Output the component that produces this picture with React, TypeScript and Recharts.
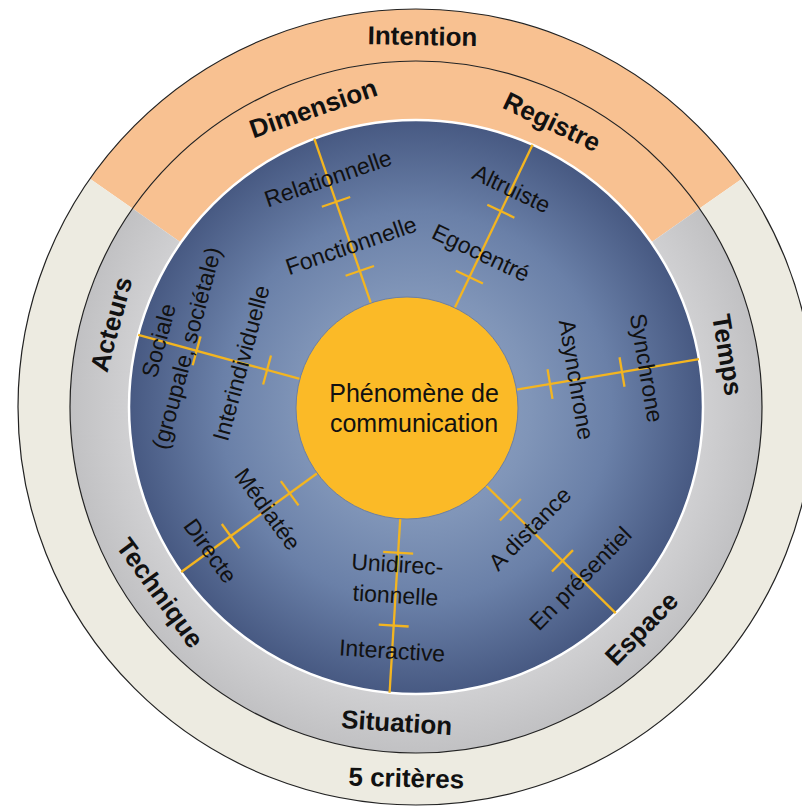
import React from 'react';
import { PieChart, Pie, Cell } from 'recharts';

// ring segments (degrees of arc)
const OUTER_RING = [
  { name: 'Intention', value: 110 },
  { name: '5 critères', value: 250 },
];
const INNER_RING = [
  { name: 'Intention', value: 110 },
  { name: 'Situation', value: 250 },
];
const OUTER_LABELS = ['Intention', '5 critères'];
const OUTER_LABEL_ANGLES = [89, 268.5];

// the seven criteria, their direction and their two options
const CRITERIA = ['Dimension', 'Registre', 'Temps', 'Espace', 'Situation', 'Technique', 'Acteurs'];
const CRITERIA_ANGLES = [109, 64.5, 9.5, 315.5, 266.5, 216, 164.8];
const NEAR_OPTIONS = ['Fonctionnelle', 'Egocentré', 'Asynchrone', 'A distance', 'Unidirec-|tionnelle', 'Médiatée', 'Interindividuelle'];
const FAR_OPTIONS = ['Relationnelle', 'Altruiste', 'Synchrone', 'En présentiel', 'Interactive', 'Directe', 'Sociale|(groupale, sociétale)'];
const CENTER_TEXT = ['Phénomène de', 'communication'];

const W = 802;
const H = 807;
const CX = 416;
const CY = 407;
const R_OUT = 398;
const R_MID = 346;
const R_DISK = 287;
const HX = 407;
const HY = 408;
const R_HUB = 111;
const TICK_R = [145, 218];
const OPTION_R = [172, 243];
const RING_LABEL_R = 316;
const OUTER_LABEL_R = 371;
const FONT = '"Liberation Sans", Arial, sans-serif';
const GOLD = '#f3b520';

const rad = (d: number) => (d * Math.PI) / 180;
const polar = (cx: number, cy: number, r: number, deg: number) => [cx + r * Math.cos(rad(deg)), cy - r * Math.sin(rad(deg))];
const tangent = (deg: number) => {
  const a = ((deg % 360) + 360) % 360;
  return a <= 180 ? 90 - a : 270 - a;
};

// distance from the hub centre to the disk edge along a direction
const rayToDisk = (deg: number) => {
  const ux = Math.cos(rad(deg));
  const uy = -Math.sin(rad(deg));
  const dx = HX - CX;
  const dy = HY - CY;
  const b = ux * dx + uy * dy;
  return -b + Math.sqrt(b * b - (dx * dx + dy * dy) + R_DISK * R_DISK);
};

const Label = ({ x, y, rot, text, size, bold, lineH }: any) => {
  const lines = text.split('|');
  return (
    <text
      transform={`translate(${x},${y}) rotate(${rot})`}
      textAnchor="middle"
      fontSize={size}
      fontWeight={bold ? 'bold' : 'normal'}
      fontFamily={FONT}
      fill="#111"
    >
      {lines.map((l: string, i: number) => (
        <tspan key={i} x={0} y={(i - (lines.length - 1) / 2) * lineH} dy="0.35em">
          {l}
        </tspan>
      ))}
    </text>
  );
};

const Overlay = () => (
  <svg width={W} height={H} style={{ position: 'absolute', left: 0, top: 0, pointerEvents: 'none' }}>
    <circle cx={CX} cy={CY} r={R_OUT} fill="none" stroke="#222" strokeWidth={1.2} />
    <circle cx={CX} cy={CY} r={R_MID} fill="none" stroke="#222" strokeWidth={1.2} />
    <circle cx={CX} cy={CY} r={R_DISK} fill="none" stroke="#fff" strokeWidth={2.5} />

    {CRITERIA.map((c, i) => {
      const a = CRITERIA_ANGLES[i];
      const [x1, y1] = polar(HX, HY, R_HUB, a);
      const [x2, y2] = polar(HX, HY, rayToDisk(a), a);
      const px = Math.sin(rad(a)) * 15;
      const py = Math.cos(rad(a)) * 15;
      return (
        <g key={c}>
          <line x1={x1} y1={y1} x2={x2} y2={y2} stroke={GOLD} strokeWidth={2.3} />
          {TICK_R.map((r) => {
            const [tx, ty] = polar(HX, HY, r, a);
            return <line key={r} x1={tx - px} y1={ty - py} x2={tx + px} y2={ty + py} stroke={GOLD} strokeWidth={2.3} />;
          })}
        </g>
      );
    })}

    <circle cx={HX} cy={HY} r={R_HUB} fill="none" stroke="#6a7fa6" strokeWidth={1} />

    {CRITERIA.map((c, i) => {
      const a = CRITERIA_ANGLES[i];
      const rot = tangent(a);
      const [nx, ny] = polar(HX, HY, OPTION_R[0], a);
      const [fx, fy] = polar(HX, HY, OPTION_R[1], a);
      const [lx, ly] = polar(CX, CY, RING_LABEL_R, a);
      return (
        <g key={c}>
          <Label x={nx} y={ny} rot={rot} text={NEAR_OPTIONS[i]} size={23} lineH={31} />
          <Label x={fx} y={fy} rot={rot} text={FAR_OPTIONS[i]} size={23} lineH={29} />
          <Label x={lx} y={ly} rot={rot} text={c} size={26} bold lineH={30} />
        </g>
      );
    })}

    {OUTER_LABELS.map((t, i) => {
      const [x, y] = polar(CX, CY, OUTER_LABEL_R, OUTER_LABEL_ANGLES[i]);
      return <Label key={t} x={x} y={y} rot={tangent(OUTER_LABEL_ANGLES[i])} text={t} size={26} bold lineH={30} />;
    })}

    <text textAnchor="middle" fontSize={25} fontFamily={FONT} fill="#111">
      {CENTER_TEXT.map((t, i) => (
        <tspan key={t} x={HX + 7} y={HY - 6 + i * 30}>
          {t}
        </tspan>
      ))}
    </text>
  </svg>
);

export default function App() {
  return (
    <div style={{ position: 'absolute', left: 0, top: 0, width: W, height: H, background: '#fff' }}>
      <svg width={0} height={0} style={{ position: 'absolute' }}>
        <defs>
          <radialGradient id="diskGrad" cx="50%" cy="50%" r="50%">
            <stop offset="0%" stopColor="#98aac8" />
            <stop offset="40%" stopColor="#8095b8" />
            <stop offset="68%" stopColor="#6a80a8" />
            <stop offset="100%" stopColor="#475982" />
          </radialGradient>
          <radialGradient id="greyGrad" gradientUnits="userSpaceOnUse" cx={CX} cy={CY} r={R_MID}>
            <stop offset="0.83" stopColor="#d0d0d2" />
            <stop offset="1" stopColor="#c1c1c3" />
          </radialGradient>
        </defs>
      </svg>
      <PieChart width={W} height={H} margin={{ top: 0, right: 0, bottom: 0, left: 0 }}>
        <Pie
          data={OUTER_RING}
          dataKey="value"
          cx={CX}
          cy={CY}
          innerRadius={R_MID}
          outerRadius={R_OUT}
          startAngle={35}
          endAngle={395}
          stroke="none"
          isAnimationActive={false}
        >
          {OUTER_RING.map((d, i) => (
            <Cell key={d.name} fill={i === 0 ? '#f8c191' : '#edebe1'} stroke="none" />
          ))}
        </Pie>
        <Pie
          data={INNER_RING}
          dataKey="value"
          cx={CX}
          cy={CY}
          innerRadius={R_DISK}
          outerRadius={R_MID}
          startAngle={35}
          endAngle={395}
          stroke="none"
          isAnimationActive={false}
        >
          {INNER_RING.map((d, i) => (
            <Cell key={d.name} fill={i === 0 ? '#f8c191' : 'url(#greyGrad)'} stroke="none" />
          ))}
        </Pie>
        <Pie
          data={[{ name: 'Critères', value: 1 }]}
          dataKey="value"
          cx={CX}
          cy={CY}
          innerRadius={0}
          outerRadius={R_DISK}
          startAngle={0}
          endAngle={360}
          stroke="none"
          fill="url(#diskGrad)"
          isAnimationActive={false}
        />
        <Pie
          data={[{ name: CENTER_TEXT.join(' '), value: 1 }]}
          dataKey="value"
          cx={HX}
          cy={HY}
          innerRadius={0}
          outerRadius={R_HUB}
          startAngle={0}
          endAngle={360}
          stroke="none"
          fill="#fbba27"
          isAnimationActive={false}
        />
      </PieChart>
      <Overlay />
    </div>
  );
}
